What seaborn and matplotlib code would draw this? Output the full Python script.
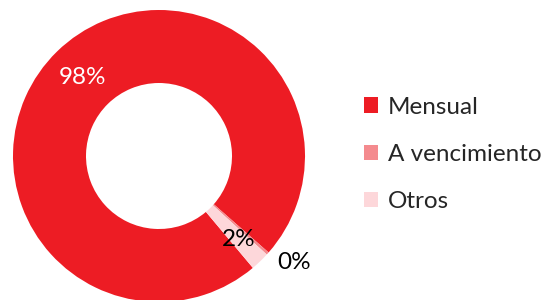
import numpy as np
import matplotlib
matplotlib.use("Agg")
import matplotlib.pyplot as plt
import seaborn as sns

# datos del grafico
categorias = ["Mensual", "A vencimiento", "Otros"]
valores = [97.6, 0.3, 2.1]
etiquetas = ["98%", "0%", "2%"]
colores = ["#ED1C24", "#F48A8E", "#FDD7DA"]

sns.set_theme(style="white")
plt.rcParams["font.family"] = ["Lato", "DejaVu Sans"]

fig = plt.figure(figsize=(5.44, 3.0), dpi=100)
ax = fig.add_axes([0, 0, 1, 1])

cx, cy, R = 159, 144, 146
wedges, _ = ax.pie(valores, colors=colores, startangle=-50, counterclock=False,
                   center=(cx, cy), radius=R, frame=True,
                   wedgeprops=dict(width=R * 0.5, linewidth=0))
ax.set_xlim(0, 544)
ax.set_ylim(0, 300)
ax.set_aspect("equal")
ax.axis("off")

# etiquetas de porcentaje
ajustes = [(110 / R, 0, "white"), (172 / R, 3.5, "black"), (115 / R, 0, "black")]
for w, txt, (dist, nudge, col) in zip(wedges, etiquetas, ajustes):
    ang = np.deg2rad((w.theta1 + w.theta2) / 2 + nudge)
    ax.text(cx + dist * R * np.cos(ang), cy + dist * R * np.sin(ang), txt,
            ha="center", va="center", fontsize=17.5, color=col)

ax.legend(wedges, categorias, loc="upper left", bbox_to_anchor=(354 / 544, 1 - 87 / 300),
          frameon=False, fontsize=17.5, handlelength=0.6, handleheight=0.6,
          handletextpad=0.4, labelspacing=1.08, borderaxespad=0)

fig.savefig("out.png", dpi=100)
